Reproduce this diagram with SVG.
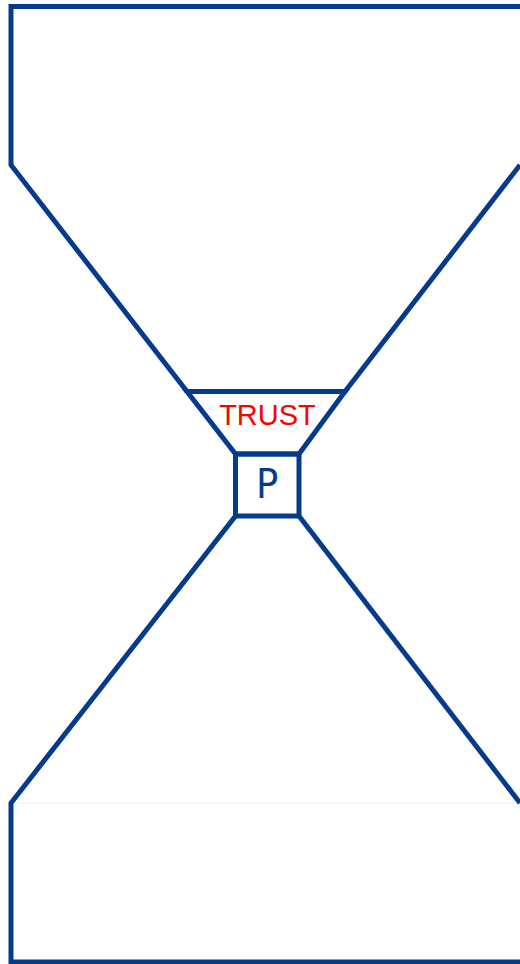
<svg xmlns="http://www.w3.org/2000/svg" width="520" height="964" viewBox="0 0 520 964">
<style>
.ln{fill:none;stroke:#063b8c;stroke-width:5;stroke-linejoin:miter;stroke-linecap:butt}
.faint{fill:none;stroke:#eeeeee;stroke-width:1}
</style>
<rect width="520" height="964" fill="#fff"/>
<g id="connectors">
<polyline class="ln" points="520,6.5 11,6.5 11,165 187,391.5"/>
<polyline class="ln" points="520,165 345,391.5"/>
<line class="faint" x1="14" y1="803" x2="520" y2="803"/>
<polyline class="ln" points="235.5,516 11,803 11,962 520,962"/>
<polyline class="ln" points="299,516 520,803"/>
</g>
<g id="trust">
<polygon class="ln" points="187,391.5 345,391.5 299,454 235.5,454"/>
<text x="267.5" y="425" font-family="Liberation Sans, Arial, sans-serif" font-size="29" fill="#ff0000" text-anchor="middle">TRUST</text>
</g>
<g id="p">
<rect class="ln" x="235.5" y="454" width="63.5" height="62"/>
<text x="267" y="498" font-family="DejaVu Sans Condensed, DejaVu Sans, sans-serif" font-size="41" fill="#063b8c" text-anchor="middle">P</text>
</g>
</svg>
